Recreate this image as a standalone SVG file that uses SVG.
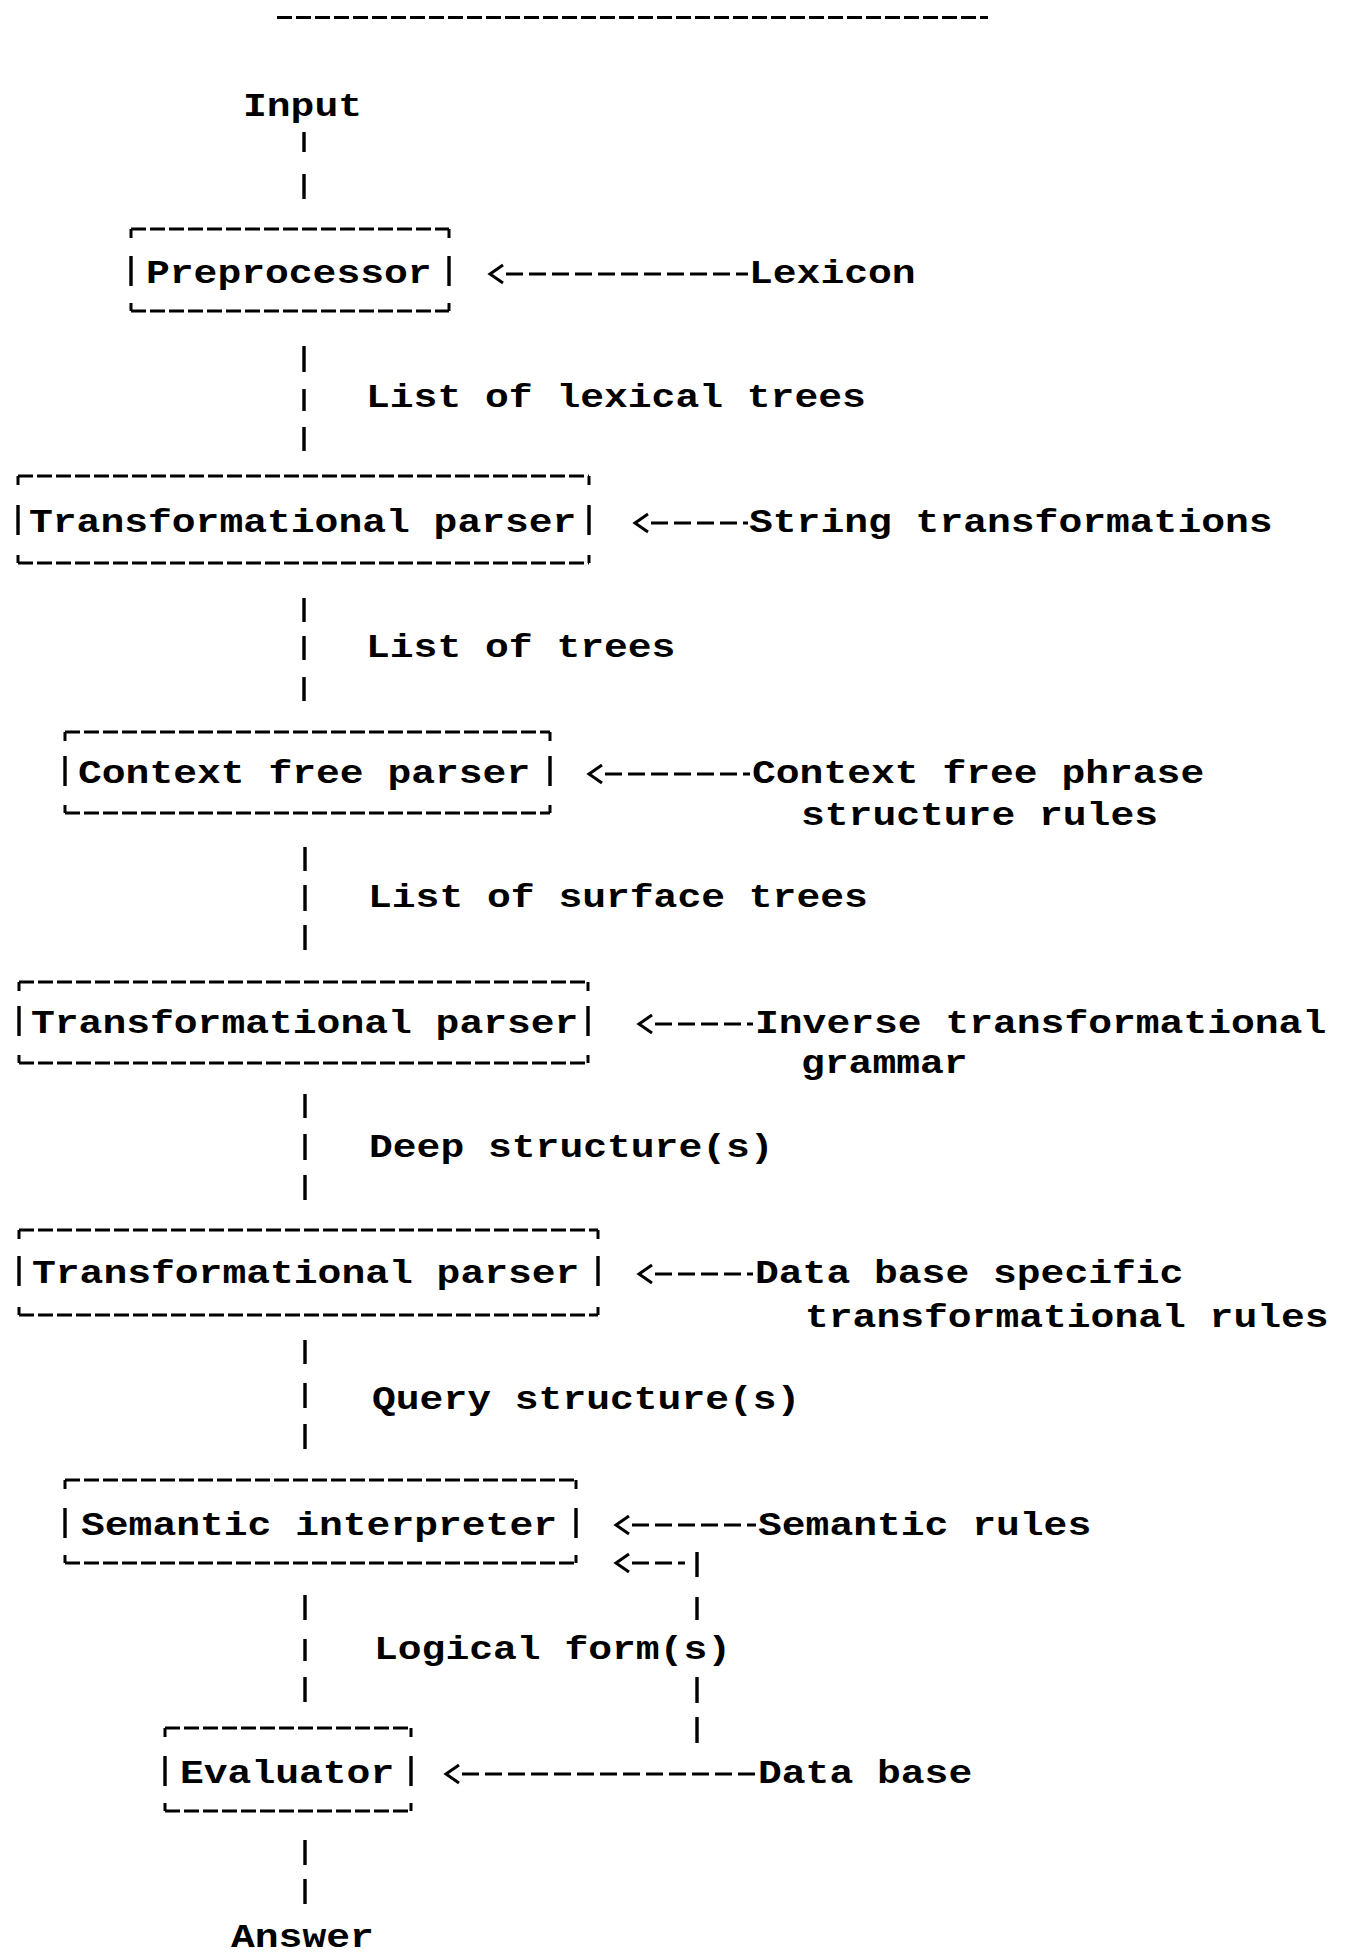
<svg xmlns="http://www.w3.org/2000/svg" xmlns:xlink="http://www.w3.org/1999/xlink" width="1347" height="1954" viewBox="0 0 1347 1954">
<style>
text{font-family:"Liberation Mono","DejaVu Sans Mono",monospace;font-size:33px;font-weight:bold;fill:#000}
.dash{stroke:#000;stroke-width:3;fill:none;stroke-dasharray:15 4}
.solid{stroke:#000;stroke-width:3;fill:none}
.bar{stroke:#000;stroke-width:3.4;fill:none}
.arr{stroke:#000;stroke-width:3;fill:none;stroke-dasharray:17 6}
.chev{stroke:#000;stroke-width:3;fill:none}
</style>
<defs>
<path id="lt" class="chev" d="M13,-9 L0,0 L13,9"/>
</defs>
<rect width="1347" height="1954" fill="#fff"/>
<line class="dash" x1="277" y1="17.5" x2="988" y2="17.5"/>

<g id="input"><text x="243" y="116" textLength="119" lengthAdjust="spacingAndGlyphs">Input</text></g>

<g id="preprocessor">
<path class="dash" d="M131,229 H449"/><path class="solid" d="M131,238 V229 M449,229 V238 M131,303 V311 M449,303 V311"/>
<path class="dash" d="M131,311 H449"/>
<line class="bar" x1="131" y1="256" x2="131" y2="286"/><line class="bar" x1="449" y1="256" x2="449" y2="286"/>
<text x="146" y="283" textLength="285.6" lengthAdjust="spacingAndGlyphs">Preprocessor</text>
</g>
<g id="lexicon"><text x="749" y="283" textLength="166.6" lengthAdjust="spacingAndGlyphs">Lexicon</text></g>

<g id="tp1">
<path class="dash" d="M18,476 H589 M18,563 H589"/><path class="solid" d="M18,485 V476 M589,476 V485 M18,555 V563 M589,555 V563"/>
<line class="bar" x1="18" y1="505" x2="18" y2="535"/><line class="bar" x1="589" y1="505" x2="589" y2="535"/>
<text x="29" y="532" textLength="547.4" lengthAdjust="spacingAndGlyphs">Transformational parser</text>
</g>
<g id="string-transformations"><text x="749" y="532" textLength="523.6" lengthAdjust="spacingAndGlyphs">String transformations</text></g>

<g id="cfp">
<path class="dash" d="M65,732 H550 M65,813 H550"/><path class="solid" d="M65,741 V732 M550,732 V741 M65,805 V813 M550,805 V813"/>
<line class="bar" x1="65" y1="756" x2="65" y2="786"/><line class="bar" x1="550" y1="756" x2="550" y2="786"/>
<text x="78" y="783" textLength="452.2" lengthAdjust="spacingAndGlyphs">Context free parser</text>
</g>
<g id="cf-rules">
<text x="752" y="783" textLength="452.2" lengthAdjust="spacingAndGlyphs">Context free phrase</text>
<text x="801" y="825" textLength="357" lengthAdjust="spacingAndGlyphs">structure rules</text>
</g>

<g id="tp2">
<path class="dash" d="M19,982 H588 M19,1063 H588"/><path class="solid" d="M19,991 V982 M588,982 V991 M19,1055 V1063 M588,1055 V1063"/>
<line class="bar" x1="19" y1="1006" x2="19" y2="1036"/><line class="bar" x1="588" y1="1006" x2="588" y2="1036"/>
<text x="31" y="1033" textLength="547.4" lengthAdjust="spacingAndGlyphs">Transformational parser</text>
</g>
<g id="inverse-grammar">
<text x="755" y="1033" textLength="571.2" lengthAdjust="spacingAndGlyphs">Inverse transformational</text>
<text x="801" y="1073" textLength="166.6" lengthAdjust="spacingAndGlyphs">grammar</text>
</g>

<g id="tp3">
<path class="dash" d="M19,1230 H598 M19,1315 H598"/><path class="solid" d="M19,1239 V1230 M598,1230 V1239 M19,1307 V1315 M598,1307 V1315"/>
<line class="bar" x1="19" y1="1256" x2="19" y2="1286"/><line class="bar" x1="598" y1="1256" x2="598" y2="1286"/>
<text x="32" y="1283" textLength="547.4" lengthAdjust="spacingAndGlyphs">Transformational parser</text>
</g>
<g id="db-rules">
<text x="755" y="1283" textLength="428.4" lengthAdjust="spacingAndGlyphs">Data base specific</text>
<text x="805" y="1327" textLength="523.6" lengthAdjust="spacingAndGlyphs">transformational rules</text>
</g>

<g id="semantic-interpreter">
<path class="dash" d="M65,1480 H576 M65,1563 H576"/><path class="solid" d="M65,1489 V1480 M576,1480 V1489 M65,1555 V1563 M576,1555 V1563"/>
<line class="bar" x1="65" y1="1508" x2="65" y2="1538"/><line class="bar" x1="576" y1="1508" x2="576" y2="1538"/>
<text x="81" y="1535" textLength="476" lengthAdjust="spacingAndGlyphs">Semantic interpreter</text>
</g>
<g id="semantic-rules"><text x="758" y="1535" textLength="333.2" lengthAdjust="spacingAndGlyphs">Semantic rules</text></g>

<g id="evaluator">
<path class="dash" d="M165,1728 H411 M165,1811 H411"/><path class="solid" d="M165,1737 V1728 M411,1728 V1737 M165,1803 V1811 M411,1803 V1811"/>
<line class="bar" x1="165" y1="1756" x2="165" y2="1786"/><line class="bar" x1="411" y1="1756" x2="411" y2="1786"/>
<text x="180" y="1783" textLength="214.2" lengthAdjust="spacingAndGlyphs">Evaluator</text>
</g>
<g id="data-base"><text x="758" y="1783" textLength="214.2" lengthAdjust="spacingAndGlyphs">Data base</text></g>

<g id="answer"><text x="231" y="1947" textLength="142.8" lengthAdjust="spacingAndGlyphs">Answer</text></g>

<g id="labels">
<text x="366" y="407" textLength="499.8" lengthAdjust="spacingAndGlyphs">List of lexical trees</text>
<text x="366" y="657" textLength="309.4" lengthAdjust="spacingAndGlyphs">List of trees</text>
<text x="368" y="907" textLength="499.8" lengthAdjust="spacingAndGlyphs">List of surface trees</text>
<text x="369" y="1157" textLength="404.6" lengthAdjust="spacingAndGlyphs">Deep structure(s)</text>
<text x="372" y="1409" textLength="428.4" lengthAdjust="spacingAndGlyphs">Query structure(s)</text>
<text x="374" y="1659" textLength="357" lengthAdjust="spacingAndGlyphs">Logical form(s)</text>
</g>

<g id="connectors">
<path class="bar" d="M304,132 V152 M304,174 V199"/>
<path class="bar" d="M304,346 V372 M304,389 V411 M304,427 V451"/>
<path class="bar" d="M304,598 V622 M304,636 V660 M304,677 V701"/>
<path class="bar" d="M305,847 V871 M305,885 V911 M305,925 V950"/>
<path class="bar" d="M305,1094 V1118 M305,1134 V1160 M305,1175 V1200"/>
<path class="bar" d="M305,1340 V1364 M305,1383 V1408 M305,1424 V1449"/>
<path class="bar" d="M305,1595 V1620 M305,1639 V1661 M305,1677 V1702"/>
<path class="bar" d="M305,1840 V1865 M305,1879 V1904"/>

<use xlink:href="#lt" x="490" y="274"/><line class="arr" x1="506" y1="274" x2="748" y2="274"/>
<use xlink:href="#lt" x="635" y="523"/><line class="arr" x1="651" y1="523" x2="748" y2="523"/>
<use xlink:href="#lt" x="589" y="774"/><line class="arr" x1="605" y1="774" x2="750" y2="774"/>
<use xlink:href="#lt" x="639" y="1024"/><line class="arr" x1="655" y1="1024" x2="753" y2="1024"/>
<use xlink:href="#lt" x="639" y="1274"/><line class="arr" x1="655" y1="1274" x2="753" y2="1274"/>
<use xlink:href="#lt" x="616" y="1525"/><line class="arr" x1="632" y1="1525" x2="756" y2="1525"/>
<use xlink:href="#lt" x="616" y="1563"/><line class="arr" x1="632" y1="1563" x2="685" y2="1563"/>
<path class="bar" d="M697,1552 V1577 M697,1597 V1620 M697,1677 V1703 M697,1717 V1743"/>
<use xlink:href="#lt" x="446" y="1774"/><line class="arr" x1="462" y1="1774" x2="756" y2="1774"/>
</g>
</svg>
